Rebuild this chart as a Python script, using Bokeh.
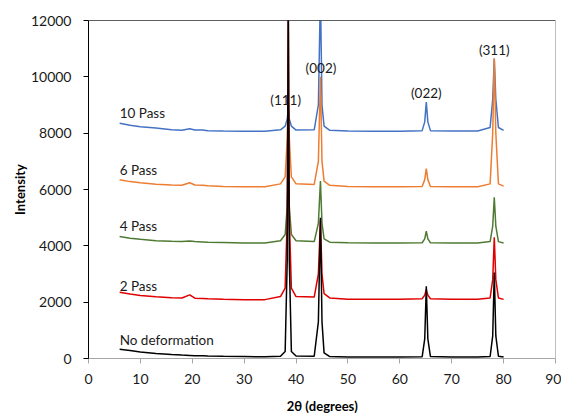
from bokeh.plotting import figure
from bokeh.models import Range1d, FixedTicker, Span, Label
from bokeh.embed import file_html
from bokeh.resources import INLINE

# 2-theta sample positions (degrees)
two_theta = [6, 8, 10, 13, 16, 18, 19.5, 20.5, 22, 23,
             26, 30, 34, 37, 37.9, 38.3, 38.5, 38.7, 39.1, 40,
             43.5, 44.3, 44.7, 45.0, 45.4, 46.5, 50, 55, 60, 64.3,
             64.8, 65.1, 65.4, 65.9, 70, 75, 77.4, 77.9, 78.2, 78.5,
             79.0, 80]

no_deformation = [330, 280, 230, 180, 140, 120, 110, 100, 95, 90,
                  80, 70, 60, 80, 250, 3500, 12800, 3500, 250, 90,
                  80, 1300, 5000, 1300, 200, 70, 55, 50, 50, 60,
                  700, 2560, 700, 70, 50, 50, 70, 800, 3050, 800,
                  80, 50]

pass_2 = [2350, 2290, 2240, 2190, 2160, 2150, 2260, 2140, 2130, 2120,
          2100, 2090, 2090, 2200, 2500, 5000, 12600, 5000, 2500, 2200,
          2180, 3000, 4900, 3000, 2300, 2150, 2100, 2100, 2100, 2120,
          2250, 2450, 2250, 2120, 2100, 2100, 2150, 2800, 4300, 2800,
          2150, 2100]

pass_4 = [4330, 4270, 4230, 4180, 4160, 4150, 4170, 4150, 4140, 4130,
          4120, 4100, 4100, 4180, 4400, 5400, 6600, 5400, 4400, 4180,
          4150, 4800, 6300, 4800, 4250, 4130, 4110, 4100, 4100, 4110,
          4250, 4520, 4250, 4110, 4100, 4100, 4150, 4700, 5720, 4700,
          4150, 4100]

pass_6 = [6350, 6280, 6240, 6190, 6160, 6150, 6240, 6160, 6150, 6130,
          6110, 6100, 6100, 6200, 6450, 7800, 9300, 7800, 6450, 6200,
          6180, 7000, 10000, 7000, 6300, 6150, 6110, 6100, 6100, 6110,
          6350, 6740, 6350, 6110, 6100, 6100, 6200, 8000, 10650, 8000,
          6200, 6120]

pass_10 = [8350, 8280, 8230, 8180, 8120, 8100, 8160, 8110, 8110, 8090,
           8080, 8070, 8070, 8120, 8250, 8500, 8850, 8500, 8250, 8110,
           8120, 9000, 13000, 9000, 8250, 8100, 8080, 8070, 8070, 8090,
           8400, 9100, 8400, 8090, 8080, 8080, 8200, 9200, 10650, 9200,
           8200, 8100]

series_names = ["10 Pass", "6 Pass", "4 Pass", "2 Pass", "No deformation"]
series_values = [pass_10, pass_6, pass_4, pass_2, no_deformation]
series_colors = ["#4472C4", "#ED7D31", "#4F7A32", "#E00000", "#000000"]
label_x = [6, 6, 6, 6, 6]
label_y = [8700, 6700, 4720, 2590, 640]

peak_names = ["(111)", "(002)", "(022)", "(311)"]
peak_x = [38.0, 44.8, 65.1, 78.2]
peak_y = [9190, 10300, 9440, 10970]

x_ticks = [0, 10, 20, 30, 40, 50, 60, 70, 80, 90]
y_ticks = [0, 2000, 4000, 6000, 8000, 10000, 12000]

FONT = "Lato"

p = figure(frame_width=467, frame_height=338, output_backend="svg", toolbar_location=None,
           x_range=Range1d(0, 90), y_range=Range1d(0, 12000),
           min_border_left=88, min_border_right=6, min_border_top=20,
           min_border_bottom=40)
p.grid.visible = False
p.outline_line_color = "#BFBFBF"
p.outline_line_width = 1

for vals, col in zip(series_values, series_colors):
    p.line(two_theta, vals, line_color=col, line_width=1.5)

p.add_layout(Span(location=12000, dimension="width", line_color="black", line_width=1))

for name, lx, ly in zip(series_names, label_x, label_y):
    p.add_layout(Label(x=lx, y=ly, text=name, text_font=FONT, text_font_size="13.5px",
                       text_color="#1a1a1a", text_align="left", text_baseline="middle"))

for name, lx, ly in zip(peak_names, peak_x, peak_y):
    p.add_layout(Label(x=lx, y=ly, text=name, text_font=FONT, text_font_size="13.5px",
                       text_color="#1a1a1a", text_align="center", text_baseline="middle"))

xa = p.xaxis[0]
xa.ticker = FixedTicker(ticks=x_ticks)
xa.axis_line_color = "#A6A6A6"
xa.major_tick_line_color = "#A6A6A6"
xa.major_tick_out = 5
xa.major_tick_in = 0
xa.minor_tick_line_color = None
xa.major_label_text_font = FONT
xa.major_label_text_font_size = "14px"
xa.major_label_text_color = "#1a1a1a"
xa.major_label_standoff = 10
xa.axis_label = "2θ (degrees)"
xa.axis_label_text_font = FONT
xa.axis_label_text_font_size = "13px"
xa.axis_label_text_font_style = "bold"
xa.axis_label_text_color = "#000000"
xa.axis_label_standoff = 11

ya = p.yaxis[0]
ya.ticker = FixedTicker(ticks=y_ticks)
ya.axis_line_color = "#000000"
ya.major_tick_line_color = "#000000"
ya.major_tick_out = 5
ya.major_tick_in = 0
ya.minor_tick_line_color = None
ya.major_label_text_font = FONT
ya.major_label_text_font_size = "14px"
ya.major_label_text_color = "#1a1a1a"
ya.major_label_standoff = 12
ya.axis_label = "Intensity"
ya.axis_label_text_font = FONT
ya.axis_label_text_font_size = "13px"
ya.axis_label_text_font_style = "bold"
ya.axis_label_text_color = "#000000"
ya.axis_label_standoff = 0

open("out.html", "w").write(file_html(p, INLINE))
